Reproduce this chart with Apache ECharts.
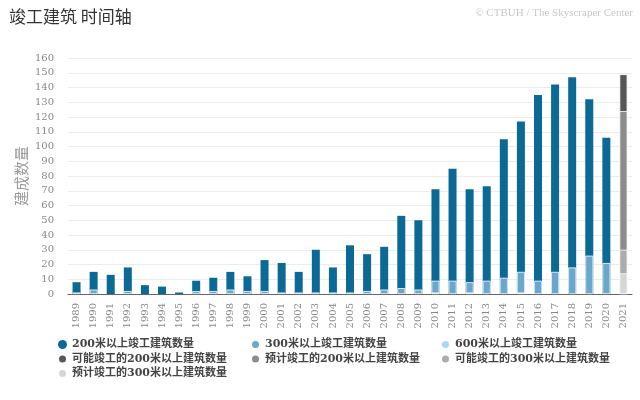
<!DOCTYPE html>
<html>
<head>
<meta charset="utf-8">
<script src="https://cdn.jsdelivr.net/npm/echarts@6/dist/echarts.min.js"></script>
<style>
  html, body { margin: 0; padding: 0; background: #fff; }
  #chart { width: 640px; height: 400px; }
</style>
</head>
<body>
<div id="chart"></div>
<script>
// years on the x axis
var years = ['1989', '1990', '1991', '1992', '1993', '1994', '1995', '1996', '1997', '1998',
  '1999', '2000', '2001', '2002', '2003', '2004', '2005', '2006', '2007', '2008',
  '2009', '2010', '2011', '2012', '2013', '2014', '2015', '2016', '2017', '2018',
  '2019', '2020', '2021'];

// completed buildings (bars overlap, each count includes the taller class)
var done200 = [8, 15, 13, 18, 6, 5, 1, 9, 11, 15, 12, 23, 21, 15, 30, 18, 33, 27, 32, 53,
  50, 71, 85, 71, 73, 105, 117, 135, 142, 147, 132, 106, 0];
var done300 = [1, 3, 0, 2, 0, 0, 0, 2, 2, 3, 2, 2, 1, 1, 1, 1, 1, 2, 3, 4,
  3, 9, 9, 8, 9, 11, 15, 9, 15, 18, 26, 21, 0];
var done600 = [0, 0, 0, 0, 0, 0, 0, 0, 0, 0, 0, 0, 0, 0, 0, 0, 0, 0, 0, 0,
  0, 1, 0, 1, 0, 0, 1, 0, 0, 0, 0, 0, 0];

// 2021 outlook
var maybe200 = [149];
var expect200 = [124];
var maybe300 = [30];
var expect300 = [14];

var yTicks = { min: 0, max: 160, step: 10 };

var names = ['200米以上竣工建筑数量', '300米以上竣工建筑数量', '600米以上竣工建筑数量',
  '可能竣工的200米以上建筑数量', '预计竣工的200米以上建筑数量',
  '可能竣工的300米以上建筑数量', '预计竣工的300米以上建筑数量'];
var colors = ['#0b6a95', '#69a7cd', '#a6d9f5', '#575757', '#8c8c8c', '#acacac', '#d6d6d6'];

function cleanup(arr) {
  return arr.map(function (v) { return v ? v : null; });
}
// put the 2021 values in the last slot
function lastYear(arr) {
  var out = years.map(function () { return null; });
  out[years.length - 1] = arr[0];
  return out;
}

var seriesData = [cleanup(done200), cleanup(done300), cleanup(done600),
  lastYear(maybe200), lastYear(expect200), lastYear(maybe300), lastYear(expect300)];

var series = seriesData.map(function (d, i) {
  return {
    name: names[i],
    type: 'bar',
    data: d,
    barWidth: 8,
    barGap: '-100%',
    itemStyle: {
      color: colors[i],
      borderColor: i === 0 ? 'transparent' : '#fff',
      borderWidth: i === 0 ? 0 : 0.8
    }
  };
});

var legendText = {
  fontFamily: 'DejaVu Serif, Noto Sans CJK SC',
  fontSize: 11,
  fontWeight: 'bold',
  color: '#444',
  lineHeight: 13
};
function col(left, data) {
  return {
    orient: 'vertical',
    left: left,
    top: 333,
    icon: 'circle',
    itemWidth: 9,
    itemHeight: 9,
    itemGap: 1.5,
    textStyle: legendText,
    data: data
  };
}

var chart = echarts.init(document.getElementById('chart'), null, { renderer: 'canvas' });

var option = {
  animation: false,
  backgroundColor: '#fff',
  title: [
    {
      text: '竣工建筑 时间轴',
      left: 4,
      top: 3,
      textStyle: { fontFamily: 'Noto Sans CJK SC', fontSize: 17, fontWeight: 'normal', color: '#333' }
    },
    {
      text: '© CTBUH / The Skyscraper Center',
      right: 2,
      top: 3,
      textStyle: { fontFamily: 'Liberation Serif', fontSize: 11, fontWeight: 'normal', color: '#c8c8c8' }
    }
  ],
  legend: [
    col(52, [names[0], names[3], names[6]]),
    col(245, [names[1], names[4]]),
    col(435, [names[2], names[5]])
  ],
  grid: { left: 68, right: 8, top: 58, height: 236 },
  xAxis: {
    type: 'category',
    data: years,
    axisTick: { show: false },
    axisLine: { lineStyle: { color: '#666', width: 1 } },
    axisLabel: {
      interval: 0,
      rotate: 90,
      margin: 9,
      color: '#888',
      fontFamily: 'DejaVu Serif',
      fontSize: 10
    }
  },
  yAxis: {
    type: 'value',
    min: yTicks.min,
    max: yTicks.max,
    interval: yTicks.step,
    name: '建成数量',
    nameLocation: 'middle',
    nameRotate: 90,
    nameGap: 39,
    nameMoveOverlap: false,
    nameTextStyle: { fontFamily: 'Noto Sans CJK SC', fontSize: 15, color: '#9a9a9a' },
    axisLine: { show: false },
    axisTick: { show: false },
    splitLine: { lineStyle: { color: '#ececec' } },
    axisLabel: { margin: 14, color: '#888', fontFamily: 'DejaVu Serif', fontSize: 10 }
  },
  series: series
};

chart.setOption(option);
</script>
</body>
</html>
